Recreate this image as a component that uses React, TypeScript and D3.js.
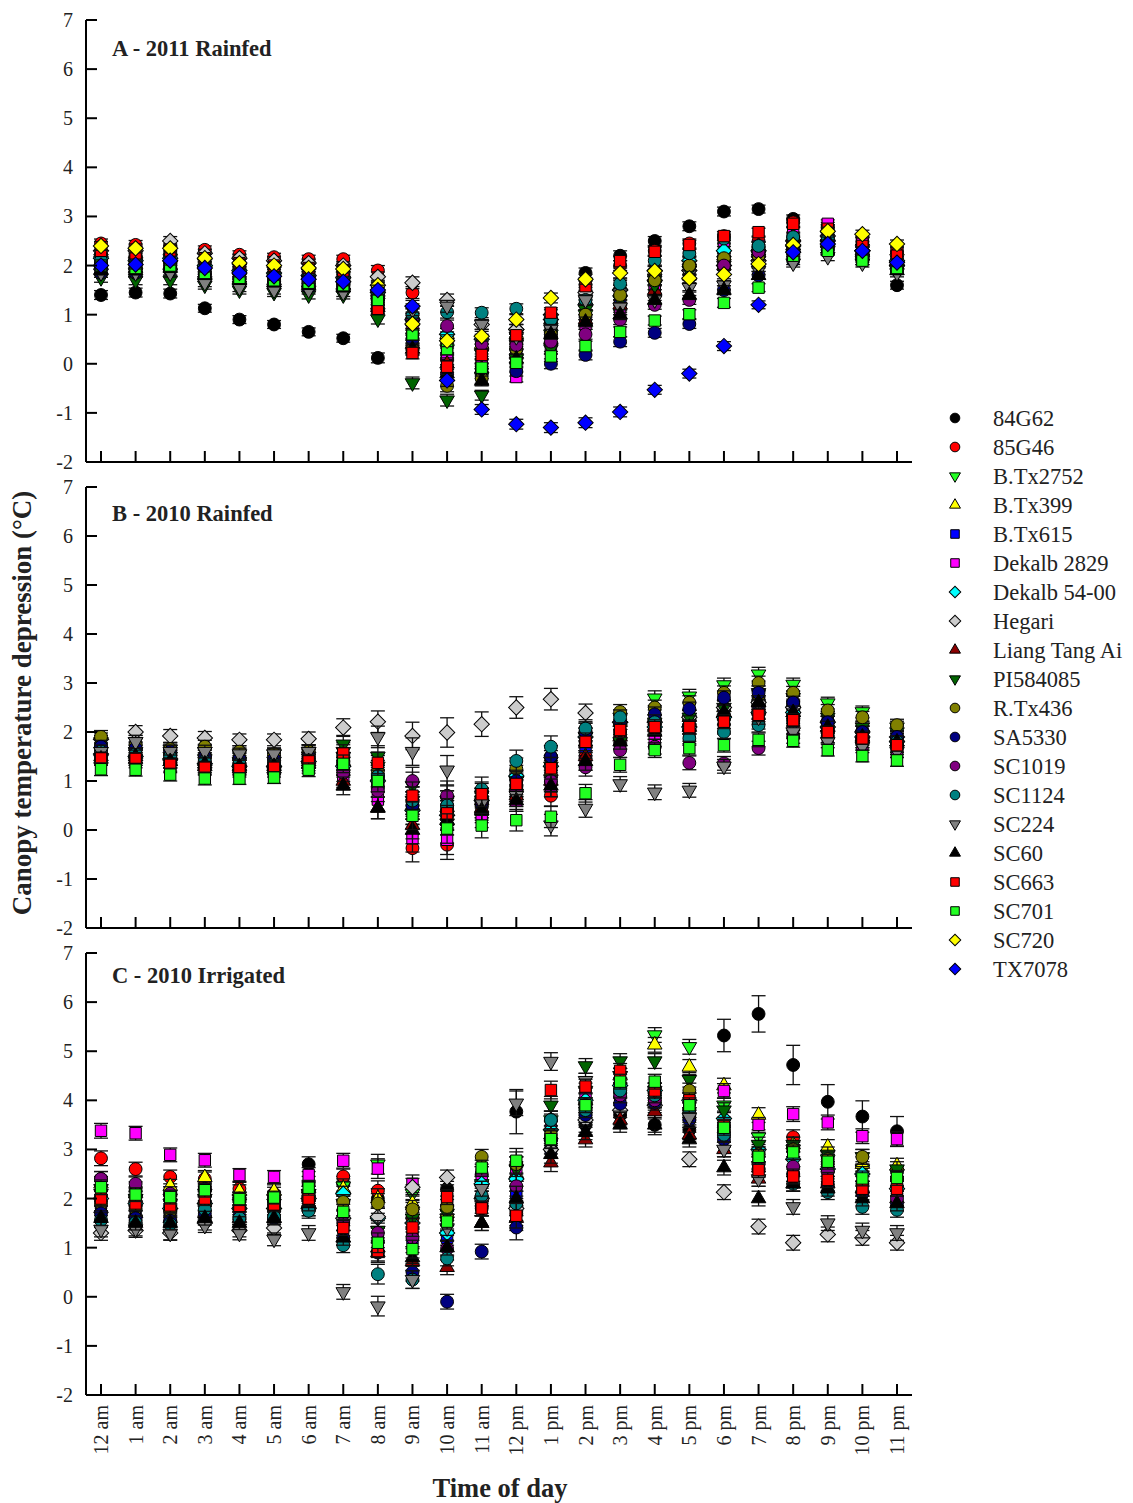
import React from "react";
import * as d3 from "d3";

const hours = ["12 am","1 am","2 am","3 am","4 am","5 am","6 am","7 am","8 am","9 am","10 am","11 am","12 pm","1 pm","2 pm","3 pm","4 pm","5 pm","6 pm","7 pm","8 pm","9 pm","10 pm","11 pm"];
const yTicks = [-2,-1,0,1,2,3,4,5,6,7];

const names = ["84G62","85G46","B.Tx2752","B.Tx399","B.Tx615","Dekalb 2829","Dekalb 54-00","Hegari","Liang Tang Ai","PI584085","R.Tx436","SA5330","SC1019","SC1124","SC224","SC60","SC663","SC701","SC720","TX7078"];
const shapes = ["circle","circle","triDown","triUp","square","square","diamond","diamond","triUp","triDown","circle","circle","circle","circle","triDown","triUp","square","square","diamond","diamond"];
const fills = ["#000000","#ff0000","#22ff22","#ffff00","#0000ff","#ff00ff","#00ffff","#cccccc","#8b0000","#006400","#808000","#000080","#800080","#008080","#808080","#000000","#ff0000","#22ff22","#ffff00","#0000ff"];

// Panel A - 2011 Rainfed
const a84G62 = [1.4,1.45,1.43,1.13,0.9,0.8,0.65,0.52,0.12,0.6,0.1,-0.2,0.3,0.55,1.85,2.2,2.5,2.8,3.1,3.15,2.95,2.75,2.3,1.6];
const a85G46 = [2.45,2.42,2.4,2.32,2.22,2.17,2.13,2.13,1.9,1.45,0.5,0.3,0.45,0.85,1.6,2.0,2.3,2.45,2.6,2.5,2.88,2.8,2.5,2.3];
const aBTx2752 = [2.1,2.05,2.0,1.9,1.8,1.75,1.7,1.7,1.3,0.8,0.3,0.2,0.4,0.6,1.0,1.3,1.7,1.9,2.0,2.1,2.25,2.3,2.15,2.0];
const aBTx399 = [2.3,2.25,2.3,2.2,2.1,2.05,2.0,1.95,1.55,1.0,0.6,0.4,0.6,0.9,1.3,1.6,1.9,2.1,2.2,2.3,2.5,2.6,2.5,2.3];
const aBTx615 = [2.05,2.0,2.05,1.9,1.8,1.75,1.7,1.65,1.4,0.5,0.1,0.05,0.2,0.73,0.9,1.2,1.5,1.8,2.0,2.1,2.3,2.4,2.3,2.1];
const aDK2829 = [2.2,2.15,2.2,2.05,1.95,1.9,1.85,1.8,1.5,0.7,0.2,0.0,-0.27,0.3,0.8,1.1,1.6,2.0,2.35,2.4,2.7,2.85,2.5,2.2];
const aDK5400 = [2.15,2.1,2.15,2.0,1.9,1.85,1.8,1.75,1.45,0.9,0.6,0.5,0.7,0.9,1.2,1.5,1.9,2.1,2.3,2.3,2.4,2.5,2.3,2.1];
const aHegari = [2.3,2.3,2.5,2.25,2.15,2.1,2.05,2.0,1.77,1.65,1.3,0.8,0.7,1.0,1.45,1.5,1.7,1.9,2.0,2.1,2.5,2.6,2.3,2.0];
const aLTA = [2.0,1.95,2.0,1.85,1.75,1.7,1.65,1.6,1.2,0.4,0.0,-0.1,0.2,0.5,0.9,1.2,1.5,1.8,2.0,2.4,2.6,2.6,2.3,2.1];
const aPI584085 = [1.75,1.7,1.7,1.6,1.5,1.45,1.4,1.4,0.91,-0.39,-0.74,-0.64,0.1,0.3,1.1,1.3,1.6,1.9,2.1,2.2,2.2,2.3,2.1,1.9];
const aRTx436 = [1.95,1.95,1.95,1.85,1.75,1.7,1.65,1.6,1.3,0.3,-0.45,-0.3,0.3,0.6,1.0,1.4,1.7,2.0,2.15,2.2,2.3,2.4,2.2,1.95];
const aSA5330 = [1.85,1.85,1.9,1.75,1.65,1.6,1.55,1.55,1.2,0.5,-0.2,-0.1,-0.15,0.0,0.18,0.45,0.63,0.81,1.5,1.8,2.1,2.3,2.1,1.9];
const aSC1019 = [2.0,1.95,2.0,1.85,1.75,1.7,1.65,1.6,1.3,0.9,0.77,0.4,0.38,0.45,0.6,0.9,1.2,1.3,2.0,2.28,2.4,2.5,2.2,2.0];
const aSC1124 = [2.1,2.05,2.1,1.95,1.85,1.8,1.75,1.7,1.35,1.0,1.05,1.04,1.12,0.9,1.3,1.63,2.1,2.25,2.55,2.4,2.58,2.55,2.2,2.0];
const aSC224 = [1.85,1.85,1.85,1.65,1.55,1.5,1.5,1.45,1.25,1.1,1.17,0.8,0.55,0.7,1.3,1.15,1.3,1.55,1.6,1.9,2.05,2.18,2.05,1.85];
const aSC60 = [1.9,1.9,1.95,1.8,1.7,1.65,1.6,1.55,1.15,0.3,-0.2,-0.35,0.1,0.6,0.85,1.0,1.3,1.4,1.5,1.8,2.4,2.5,2.2,1.9];
const aSC663 = [2.3,2.25,2.3,2.15,2.05,2.0,1.95,1.9,1.12,0.22,-0.06,0.18,0.58,1.04,1.58,2.09,2.28,2.42,2.6,2.68,2.85,2.75,2.4,2.2];
const aSC701 = [2.0,1.95,2.0,1.85,1.75,1.7,1.65,1.6,1.3,0.6,0.3,-0.08,0.02,0.15,0.36,0.65,0.88,1.01,1.24,1.55,2.2,2.3,2.1,1.95];
const aSC720 = [2.4,2.35,2.35,2.15,2.05,2.0,1.95,1.93,1.6,0.81,0.47,0.56,0.9,1.34,1.72,1.85,1.89,1.74,1.82,2.03,2.42,2.7,2.64,2.44];
const aTX7078 = [2.0,2.02,2.1,1.95,1.85,1.78,1.72,1.67,1.5,1.17,-0.34,-0.93,-1.23,-1.3,-1.2,-0.98,-0.53,-0.2,0.36,1.2,2.27,2.44,2.3,2.06];

// Panel B - 2010 Rainfed
const b84G62 = [1.7,1.65,1.55,1.5,1.45,1.45,1.5,1.3,1.0,0.5,0.4,0.6,0.9,1.3,1.8,2.0,2.2,2.3,2.5,2.7,2.6,2.2,2.0,1.9];
const b85G46 = [1.5,1.5,1.4,1.35,1.3,1.3,1.4,1.3,0.9,-0.37,-0.3,0.5,0.8,0.7,1.5,1.9,2.1,2.1,2.3,2.4,2.3,2.0,1.8,1.7];
const bBTx2752 = [1.6,1.6,1.5,1.45,1.4,1.4,1.5,1.6,1.3,0.6,0.3,0.6,1.0,1.3,1.9,2.3,2.69,2.73,2.96,3.18,2.97,2.59,2.41,2.1];
const bBTx399 = [1.6,1.55,1.5,1.4,1.35,1.35,1.45,1.4,1.1,0.5,0.3,0.6,0.9,1.2,1.8,2.2,2.3,2.3,2.5,2.7,2.6,2.3,2.1,1.9];
const bBTx615 = [1.65,1.6,1.5,1.4,1.35,1.35,1.4,1.3,1.0,0.5,0.4,0.5,0.9,1.3,1.7,2.0,2.2,2.2,2.4,2.5,2.5,2.2,2.0,1.85];
const bDK2829 = [1.45,1.4,1.3,1.25,1.2,1.2,1.3,1.05,0.62,-0.17,-0.2,0.3,0.6,0.9,1.4,1.8,1.85,1.9,2.1,2.2,2.1,1.9,1.75,1.6];
const bDK5400 = [1.55,1.5,1.45,1.35,1.3,1.3,1.4,1.3,1.0,0.4,0.3,0.6,1.1,1.3,1.9,2.2,2.1,2.1,2.3,2.4,2.4,2.1,1.9,1.8];
const bHegari = [1.85,2.0,1.92,1.88,1.84,1.84,1.86,2.09,2.21,1.92,1.99,2.16,2.5,2.67,2.39,2.2,2.2,2.3,2.5,2.6,2.5,2.2,2.0,1.9];
const bLTA = [1.5,1.45,1.4,1.3,1.25,1.25,1.35,1.0,0.45,0.1,0.2,0.45,0.7,1.0,1.5,1.9,2.1,2.2,2.4,2.6,2.4,2.1,1.9,1.8];
const bPI584085 = [1.8,1.8,1.65,1.6,1.55,1.55,1.6,1.75,1.5,0.9,0.6,0.7,1.0,1.4,1.9,1.8,2.2,2.3,2.5,2.8,2.7,2.3,2.1,2.0];
const bRTx436 = [1.9,1.75,1.65,1.7,1.6,1.55,1.6,1.5,1.2,0.6,0.4,0.6,1.25,1.5,2.0,2.41,2.5,2.6,2.8,3.0,2.8,2.44,2.3,2.14];
const bSA5330 = [1.7,1.67,1.6,1.5,1.45,1.45,1.5,1.4,1.1,0.5,0.5,0.55,1.0,1.5,2.0,2.2,2.36,2.47,2.7,2.8,2.6,2.2,2.0,1.9];
const bSC1019 = [1.55,1.5,1.45,1.35,1.3,1.3,1.4,1.17,0.8,1.0,0.7,0.6,0.8,1.0,1.28,1.63,1.7,1.37,1.36,1.67,1.9,1.9,1.8,1.7];
const bSC1124 = [1.6,1.55,1.5,1.4,1.35,1.35,1.45,1.4,1.1,0.6,0.5,0.83,1.41,1.7,2.07,2.3,2.2,1.87,2.0,2.14,2.2,2.0,1.85,1.8];
const bSC224 = [1.6,1.8,1.6,1.6,1.55,1.55,1.6,1.5,1.9,1.6,1.22,0.55,0.7,0.1,0.44,0.94,0.77,0.81,1.3,2.3,2.0,1.8,1.7,1.6];
const bSC60 = [1.45,1.5,1.4,1.35,1.3,1.3,1.4,0.9,0.45,0.0,0.2,0.4,0.6,0.9,1.4,1.8,2.0,2.1,2.4,2.6,2.4,2.1,1.9,1.8];
const bSC663 = [1.46,1.45,1.33,1.27,1.24,1.27,1.4,1.56,1.37,0.7,0.34,0.73,0.94,1.26,1.8,2.04,2.1,2.1,2.21,2.35,2.24,2.0,1.87,1.73];
const bSC701 = [1.24,1.23,1.13,1.05,1.05,1.07,1.23,1.35,1.0,0.29,0.03,0.09,0.2,0.27,0.75,1.33,1.63,1.67,1.73,1.84,1.82,1.63,1.51,1.42];

// Panel C - 2010 Irrigated
const c84G62 = [2.4,2.2,2.1,2.2,2.0,2.0,2.7,2.3,2.0,1.8,2.2,2.5,3.77,3.0,3.5,3.7,3.5,3.4,5.32,5.76,4.72,3.97,3.67,3.37];
const c85G46 = [2.82,2.6,2.44,2.4,2.2,2.1,2.3,2.45,2.16,1.6,1.6,1.8,1.7,3.2,3.8,4.2,4.0,3.8,3.5,2.9,3.25,2.7,2.5,2.4];
const cBTx2752 = [2.2,2.0,2.0,2.1,2.0,2.0,2.1,2.25,2.7,2.1,1.6,2.3,2.6,3.6,4.2,4.5,5.33,5.09,3.9,3.25,3.0,2.8,2.6,2.5];
const cBTx399 = [2.3,2.1,2.25,2.43,2.15,2.15,2.2,2.2,2.0,1.9,1.7,2.1,2.5,3.3,4.0,4.5,5.13,4.68,4.3,3.7,3.1,3.05,2.7,2.67];
const cBTx615 = [1.9,1.8,1.7,1.8,1.7,1.7,1.9,1.5,1.2,1.2,1.2,1.8,2.1,3.0,3.7,4.1,4.0,3.8,3.5,2.7,2.5,2.4,2.2,2.0];
const cDK2829 = [3.38,3.33,2.89,2.78,2.48,2.44,2.48,2.77,2.61,2.3,2.0,2.5,2.6,3.4,4.1,4.3,4.2,4.0,4.19,3.5,3.72,3.55,3.27,3.21];
const cDK5400 = [2.0,1.9,1.8,1.9,1.8,1.8,2.0,2.1,1.6,1.5,1.3,2.3,2.4,3.4,4.0,4.3,4.2,4.0,3.63,3.0,2.8,2.6,2.5,2.2];
const cHegari = [1.3,1.35,1.3,1.5,1.35,1.4,1.8,1.6,1.63,2.23,2.43,2.0,1.8,3.0,3.6,3.8,3.9,2.8,2.13,1.43,1.1,1.27,1.2,1.1];
const cLTA = [1.8,1.7,1.6,1.7,1.6,1.6,1.9,1.2,0.9,0.72,0.6,1.5,1.6,2.73,3.2,3.6,3.77,3.3,3.0,2.4,2.3,2.3,2.2,2.0];
const cPI584085 = [2.1,2.0,1.9,2.0,1.9,1.9,2.1,1.9,1.35,1.6,1.7,2.2,2.6,3.9,4.7,4.8,4.8,4.42,3.8,3.1,3.1,2.9,2.85,2.6];
const cRTx436 = [1.9,1.8,1.75,1.9,1.8,1.8,2.0,1.93,1.9,1.78,1.83,2.85,2.7,3.3,3.9,4.2,4.1,4.2,3.4,2.9,3.0,2.8,2.85,2.4];
const cSA5330 = [1.7,1.6,1.55,1.7,1.6,1.6,1.8,1.2,0.9,0.5,-0.1,0.92,1.41,3.2,3.7,3.93,3.95,3.6,3.2,2.6,2.5,2.3,2.1,1.9];
const cSC1019 = [2.4,2.3,2.1,2.2,2.0,1.9,2.1,1.5,1.3,1.2,0.98,1.85,2.25,3.6,3.9,4.1,4.0,3.7,3.3,2.7,2.65,2.55,2.3,2.0];
const cSC1124 = [1.56,1.51,1.48,1.78,1.6,1.63,1.75,1.05,0.46,0.35,0.78,2.06,1.9,3.6,3.8,4.2,4.1,3.8,3.3,2.6,2.3,2.13,1.83,1.77];
const cSC224 = [1.37,1.38,1.29,1.45,1.29,1.17,1.3,0.1,-0.19,0.35,1.4,2.2,3.94,4.79,4.4,4.5,4.2,3.65,3.0,2.4,1.83,1.5,1.35,1.3];
const cSC60 = [1.6,1.5,1.5,1.6,1.5,1.6,1.9,1.2,1.0,0.8,1.0,1.5,2.0,2.9,3.35,3.5,3.5,3.2,2.63,2.0,2.3,2.2,2.0,1.9];
const cSC663 = [2.0,1.9,1.86,2.0,1.85,1.88,2.0,1.4,0.93,1.41,2.03,1.8,1.65,4.21,4.28,4.6,4.2,4.0,3.5,2.58,2.45,2.38,2.2,2.2];
const cSC701 = [2.23,2.08,2.03,2.17,1.99,2.02,2.22,1.73,1.1,0.97,1.53,2.63,2.77,3.21,3.9,4.38,4.38,3.9,3.44,2.85,2.94,2.75,2.41,2.42];

// standard errors
const errA = [0.09,0.09,0.09,0.08,0.08,0.08,0.08,0.08,0.1,0.12,0.12,0.1,0.1,0.1,0.1,0.1,0.09,0.09,0.09,0.08,0.08,0.08,0.08,0.08];
const errB = [0.13,0.13,0.13,0.13,0.12,0.12,0.14,0.18,0.22,0.28,0.3,0.25,0.22,0.22,0.18,0.15,0.15,0.14,0.14,0.14,0.13,0.12,0.12,0.12];
const errC = [0.15,0.14,0.14,0.14,0.13,0.13,0.15,0.15,0.2,0.18,0.15,0.15,0.25,0.18,0.15,0.15,0.15,0.15,0.15,0.15,0.15,0.15,0.15,0.15];
const errC84G62 = [0.15,0.14,0.14,0.14,0.13,0.13,0.15,0.15,0.2,0.18,0.15,0.15,0.45,0.18,0.2,0.2,0.2,0.2,0.33,0.37,0.4,0.35,0.32,0.3];

const panelAData = [a84G62,a85G46,aBTx2752,aBTx399,aBTx615,aDK2829,aDK5400,aHegari,aLTA,aPI584085,aRTx436,aSA5330,aSC1019,aSC1124,aSC224,aSC60,aSC663,aSC701,aSC720,aTX7078];
const panelBData = [b84G62,b85G46,bBTx2752,bBTx399,bBTx615,bDK2829,bDK5400,bHegari,bLTA,bPI584085,bRTx436,bSA5330,bSC1019,bSC1124,bSC224,bSC60,bSC663,bSC701,null,null];
const panelCData = [c84G62,c85G46,cBTx2752,cBTx399,cBTx615,cDK2829,cDK5400,cHegari,cLTA,cPI584085,cRTx436,cSA5330,cSC1019,cSC1124,cSC224,cSC60,cSC663,cSC701,null,null];

const FONT = "'Liberation Serif', 'Times New Roman', serif";

function symPath(shape: string, k = 1): string {
  if (shape === "circle") return d3.symbol(d3.symbolCircle, 130 * k * k)() as string;
  if (shape === "square") return d3.symbol(d3.symbolSquare, 130 * k * k)() as string;
  if (shape === "diamond") return d3.symbol(d3.symbolSquare, 118 * k * k)() as string;
  return d3.symbol(d3.symbolTriangle, 92 * k * k)() as string;
}
function symRot(shape: string): number {
  if (shape === "diamond") return 45;
  if (shape === "triDown") return 180;
  return 0;
}

export default function App() {
  const W = 1133, H = 1503;
  const x = d3.scaleLinear().domain([0, 23]).range([101, 897]);
  const axisX0 = 86, axisX1 = 912;
  const panels = [
    { title: "A - 2011 Rainfed", top: 20, bottom: 462, data: panelAData, err: errA, titleY: 56, labels: false },
    { title: "B - 2010 Rainfed", top: 487, bottom: 928, data: panelBData, err: errB, titleY: 521, labels: false },
    { title: "C - 2010 Irrigated", top: 953, bottom: 1395, data: panelCData, err: errC, titleY: 983, labels: true },
  ];

  return (
    <svg width={W} height={H} style={{ position: "absolute", left: 0, top: 0, background: "#fff" }} fontFamily={FONT}>
      <rect width={W} height={H} fill="#fff" />
      {panels.map((p, pi) => {
        const y = d3.scaleLinear().domain([-2, 7]).range([p.bottom, p.top]);
        return (
          <g key={pi}>
            {p.data.map((series, si) => {
              if (!series) return null;
              const shape = shapes[si];
              const d = symPath(shape);
              const rot = symRot(shape);
              const errs = pi === 2 && si === 0 ? errC84G62 : p.err;
              return (
                <g key={si}>
                  {series.map((v, h) => {
                    const cx = x(h), cy = y(v);
                    const e = errs[h];
                    const y1 = y(v + e), y2 = y(v - e);
                    return (
                      <g key={h}>
                        <line x1={cx} x2={cx} y1={y1} y2={y2} stroke="#111" strokeWidth={1.3} />
                        <line x1={cx - 7} x2={cx + 7} y1={y1} y2={y1} stroke="#111" strokeWidth={1.3} />
                        <line x1={cx - 7} x2={cx + 7} y1={y2} y2={y2} stroke="#111" strokeWidth={1.3} />
                        <path d={d} transform={`translate(${cx},${cy}) rotate(${rot})`} fill={fills[si]} stroke="#000" strokeWidth={1} />
                      </g>
                    );
                  })}
                </g>
              );
            })}
            <line x1={axisX0} x2={axisX0} y1={p.top} y2={p.bottom} stroke="#000" strokeWidth={2} />
            <line x1={axisX0} x2={axisX1} y1={p.bottom} y2={p.bottom} stroke="#000" strokeWidth={2} />
            {yTicks.map((t) => (
              <g key={t}>
                <line x1={axisX0} x2={axisX0 + 11} y1={y(t)} y2={y(t)} stroke="#000" strokeWidth={2} />
                <text x={73} y={y(t)} dy="0.35em" textAnchor="end" fontSize={20} fill="#222">{t}</text>
              </g>
            ))}
            {hours.map((hl, h) => (
              <g key={hl}>
                <line x1={x(h)} x2={x(h)} y1={p.bottom} y2={p.bottom - 11} stroke="#000" strokeWidth={2} />
                {p.labels && (
                  <text transform={`translate(${x(h)},${p.bottom + 10}) rotate(-90)`} dy="0.35em" textAnchor="end" fontSize={20} fill="#222">{hl}</text>
                )}
              </g>
            ))}
            <text x={112} y={p.titleY} fontSize={22.5} fontWeight="bold" fill="#222">{p.title}</text>
          </g>
        );
      })}
      <text transform="translate(31,703) rotate(-90)" textAnchor="middle" fontSize={27} fontWeight="bold" fill="#222">Canopy temperature depression (°C)</text>
      <text x={500} y={1497} textAnchor="middle" fontSize={26.5} fontWeight="bold" fill="#222">Time of day</text>
      {names.map((n, i) => {
        const ly = 418 + i * 29;
        return (
          <g key={n}>
            <path d={symPath(shapes[i], 0.75)} transform={`translate(955,${ly}) rotate(${symRot(shapes[i])})`} fill={fills[i]} stroke="#000" strokeWidth={1} />
            <text x={993} y={ly} dy="0.35em" fontSize={22.5} fill="#222">{n}</text>
          </g>
        );
      })}
    </svg>
  );
}
